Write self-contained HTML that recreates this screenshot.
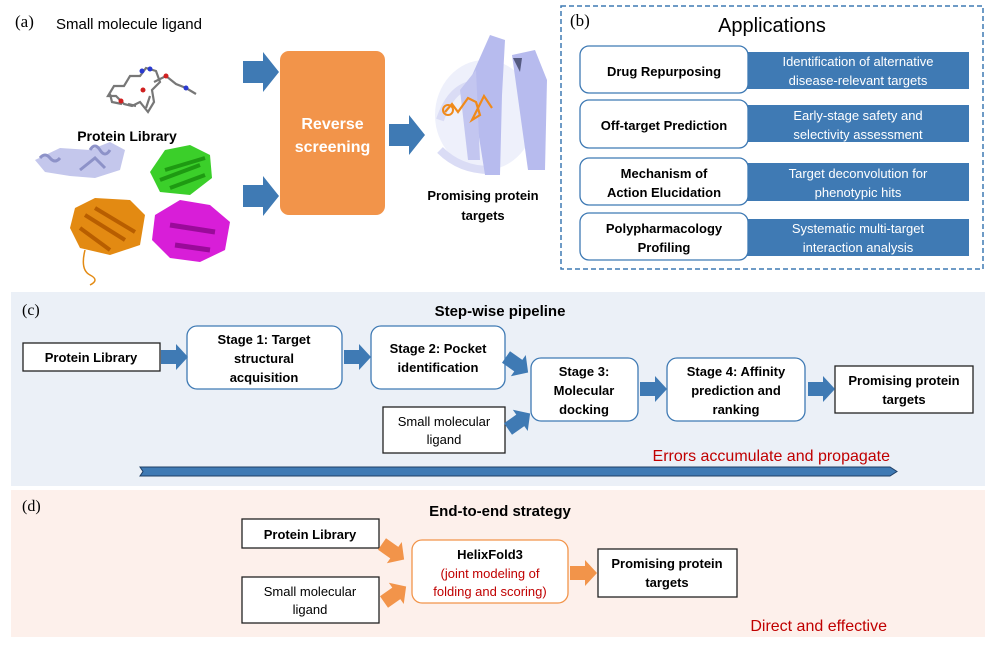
<!DOCTYPE html>
<html><head><meta charset="utf-8"><style>
html,body{margin:0;padding:0;background:#fff}
svg{display:block}
text{font-family:"Liberation Sans",sans-serif}
.b{font-weight:bold}
.s{font-family:"Liberation Serif",serif}
</style></head><body>
<svg width="996" height="651" viewBox="0 0 996 651" xmlns="http://www.w3.org/2000/svg">
<defs>
<path id="ar" d="M0,-7 L15,-7 L15,-13 L27,0 L15,13 L15,7 L0,7 Z"/>
<path id="arB" d="M0,-11 L20,-11 L20,-20 L36,0 L20,20 L20,11 L0,11 Z"/>
</defs>
<!-- (a) -->
<text x="15" y="27" class="s" font-size="17">(a)</text>
<text x="56" y="29" font-size="15">Small molecule ligand</text>
<!-- ligand molecule -->
<g stroke="#777" stroke-width="2.2" fill="none">
<path d="M108,96 L114,86 L124,86 L130,76 L140,76 L146,68 L156,71 L160,82 L152,90 L154,102 L148,112 L140,102 L132,106 L124,104 L116,96 Z"/>
<path d="M154,82 L166,76 L176,84 L186,88 L196,94 M150,96 L146,108"/>
<path d="M110,94 L112,102 L122,104 M128,104 L136,106"/>
</g>
<circle cx="142" cy="71" r="2.5" fill="#2a3ad0"/><circle cx="150" cy="69" r="2.5" fill="#2a3ad0"/>
<circle cx="166" cy="76" r="2.5" fill="#d02020"/><circle cx="143" cy="90" r="2.5" fill="#d02020"/><circle cx="121" cy="101" r="2.5" fill="#d02020"/><circle cx="186" cy="88" r="2.5" fill="#2a3ad0"/>
<text x="127" y="141" font-size="14" class="b" text-anchor="middle">Protein Library</text>
<!-- proteins -->
<g>
<path d="M35,160 L60,148 L90,150 L110,142 L125,150 L120,170 L95,178 L70,176 L45,172 Z" fill="#c4c7ec"/>
<g stroke="#8d92c8" stroke-width="3" fill="none">
<path d="M40,158 q5,-6 10,0 q5,6 10,0"/><path d="M90,150 q5,-8 10,0 q5,8 10,0"/><path d="M80,170 l15,-12 l10,10"/>
</g>
<path d="M150,172 L165,150 L190,145 L210,155 L212,178 L190,195 L160,192 Z" fill="#3bcf2a"/>
<path d="M160,180 L200,165 M165,170 L205,158 M170,188 L205,175" stroke="#1e9a12" stroke-width="4"/>
<path d="M75,208 L95,198 L130,200 L145,215 L140,245 L110,255 L80,248 L70,228 Z" fill="#e38a12"/>
<path d="M85,215 L125,240 M95,208 L135,232 M80,228 L110,250" stroke="#b85e00" stroke-width="4"/>
<path d="M85,250 q-5,20 5,25 q10,5 0,10" stroke="#e38a12" stroke-width="1.5" fill="none"/>
<path d="M155,215 L180,200 L210,205 L230,222 L225,250 L200,262 L170,258 L152,240 Z" fill="#d81ed8"/>
<path d="M170,225 L215,232 M175,245 L210,250" stroke="#9a0a9a" stroke-width="5"/>
</g>
<!-- arrows & reverse screening -->
<g fill="#3f7ab4">
<use href="#arB" transform="translate(243,72)"/>
<use href="#arB" transform="translate(243,196)"/>
<use href="#arB" transform="translate(389,135)"/>
</g>
<rect x="280" y="51" width="105" height="164" rx="9" fill="#f2944a"/>
<text x="332.5" y="129" font-size="16" class="b" fill="#fff" text-anchor="middle">Reverse</text>
<text x="332.5" y="152" font-size="16" class="b" fill="#fff" text-anchor="middle">screening</text>
<!-- promising protein image -->
<g>
<ellipse cx="485" cy="115" rx="50" ry="55" fill="#eef0fb"/>
<path d="M440,120 q10,-30 30,-35 M440,150 q20,20 50,20" stroke="#dadcf5" stroke-width="8" fill="none"/>
<path d="M470,80 L490,35 L505,40 L502,95 L500,175 L485,175 Z" fill="#b7bbee"/>
<path d="M512,55 L535,50 L547,80 L545,170 L528,170 Z" fill="#b7bbee"/>
<path d="M460,90 L476,70 L480,160 L468,160 Z" fill="#c3c6f0"/>
<path d="M513,58 L522,58 L520,72 Z" fill="#555a80"/>
<path d="M445,112 L452,104 L458,112 L468,98 L476,102 L480,115 L472,120 L484,96 L492,108" stroke="#f08a1a" stroke-width="2.2" fill="none"/>
<circle cx="448" cy="110" r="5" stroke="#f08a1a" stroke-width="2" fill="none"/>
</g>
<text x="483" y="200" font-size="13" class="b" text-anchor="middle">Promising protein</text>
<text x="483" y="220" font-size="13" class="b" text-anchor="middle">targets</text>
<!-- (b) -->
<rect x="561" y="6" width="422" height="263" fill="none" stroke="#3f7ab4" stroke-width="1.5" stroke-dasharray="5,3"/>
<text x="570" y="26" class="s" font-size="17">(b)</text>
<text x="772" y="32" font-size="20" text-anchor="middle">Applications</text>
<g fill="#3f7ab4">
<rect x="747" y="52" width="222" height="37"/>
<rect x="747" y="105" width="222" height="37"/>
<rect x="747" y="163" width="222" height="38"/>
<rect x="747" y="219" width="222" height="37"/>
</g>
<g fill="#fff" stroke="#3f7ab4" stroke-width="1.3">
<rect x="580" y="46" width="168" height="47" rx="9"/>
<rect x="580" y="100" width="168" height="48" rx="9"/>
<rect x="580" y="158" width="168" height="47" rx="9"/>
<rect x="580" y="213" width="168" height="47" rx="9"/>
</g>
<g font-size="13" class="b" text-anchor="middle">
<text x="664" y="76">Drug Repurposing</text>
<text x="664" y="130">Off-target Prediction</text>
<text x="664" y="178">Mechanism of</text>
<text x="664" y="197">Action Elucidation</text>
<text x="664" y="233">Polypharmacology</text>
<text x="664" y="252">Profiling</text>
</g>
<g font-size="13" fill="#fff" text-anchor="middle">
<text x="858" y="66">Identification of alternative</text>
<text x="858" y="85">disease-relevant targets</text>
<text x="858" y="120">Early-stage safety and</text>
<text x="858" y="139">selectivity assessment</text>
<text x="858" y="178">Target deconvolution for</text>
<text x="858" y="197">phenotypic hits</text>
<text x="858" y="233">Systematic multi-target</text>
<text x="858" y="252">interaction analysis</text>
</g>
<!-- (c) -->
<rect x="11" y="292" width="974" height="194" fill="#ebf0f7"/>
<text x="22" y="315" class="s" font-size="16">(c)</text>
<text x="500" y="316" font-size="15" class="b" text-anchor="middle">Step-wise pipeline</text>
<g fill="#fff">
<rect x="23" y="343" width="137" height="28" stroke="#222" stroke-width="1.3"/>
<rect x="187" y="326" width="155" height="63" rx="10" stroke="#3f7ab4" stroke-width="1.3"/>
<rect x="371" y="326" width="134" height="63" rx="10" stroke="#3f7ab4" stroke-width="1.3"/>
<rect x="531" y="358" width="107" height="63" rx="10" stroke="#3f7ab4" stroke-width="1.3"/>
<rect x="667" y="358" width="138" height="63" rx="10" stroke="#3f7ab4" stroke-width="1.3"/>
<rect x="835" y="366" width="138" height="47" stroke="#222" stroke-width="1.3"/>
<rect x="383" y="407" width="122" height="46" stroke="#222" stroke-width="1.3"/>
</g>
<g font-size="13" class="b" text-anchor="middle">
<text x="91" y="362">Protein Library</text>
<text x="264" y="344">Stage 1: Target</text>
<text x="264" y="363">structural</text>
<text x="264" y="382">acquisition</text>
<text x="438" y="353">Stage 2: Pocket</text>
<text x="438" y="372">identification</text>
<text x="584" y="376">Stage 3:</text>
<text x="584" y="395">Molecular</text>
<text x="584" y="414">docking</text>
<text x="736" y="376">Stage 4: Affinity</text>
<text x="736" y="395">prediction and</text>
<text x="736" y="414">ranking</text>
<text x="904" y="385">Promising protein</text>
<text x="904" y="404">targets</text>
</g>
<text x="444" y="426" font-size="13" text-anchor="middle">Small molecular</text>
<text x="444" y="444" font-size="13" text-anchor="middle">ligand</text>
<g fill="#3f7ab4">
<use href="#ar" transform="translate(161,357)"/>
<use href="#ar" transform="translate(344,357)"/>
<use href="#ar" transform="translate(506,357) rotate(35)"/>
<use href="#ar" transform="translate(508,429) rotate(-35)"/>
<use href="#ar" transform="translate(640,389)"/>
<use href="#ar" transform="translate(808,389)"/>
</g>
<text x="890" y="461" font-size="16" fill="#c00000" text-anchor="end">Errors accumulate and propagate</text>
<path d="M140,467 L890,467 L897,471.5 L890,476 L140,476 L143,471.5 Z" fill="#3f7ab4" stroke="#1f3f66" stroke-width="1"/>
<!-- (d) -->
<rect x="11" y="490" width="974" height="147" fill="#fdf0eb"/>
<text x="22" y="511" class="s" font-size="16">(d)</text>
<text x="500" y="516" font-size="15" class="b" text-anchor="middle">End-to-end strategy</text>
<g fill="#fff">
<rect x="242" y="519" width="137" height="29" stroke="#222" stroke-width="1.3"/>
<rect x="242" y="577" width="137" height="46" stroke="#222" stroke-width="1.3"/>
<rect x="412" y="540" width="156" height="63" rx="10" stroke="#f2944a" stroke-width="1.3"/>
<rect x="598" y="549" width="139" height="48" stroke="#222" stroke-width="1.3"/>
</g>
<text x="310" y="539" font-size="13" class="b" text-anchor="middle">Protein Library</text>
<text x="310" y="596" font-size="13" text-anchor="middle">Small molecular</text>
<text x="310" y="614" font-size="13" text-anchor="middle">ligand</text>
<text x="490" y="559" font-size="13" class="b" text-anchor="middle">HelixFold3</text>
<text x="490" y="578" font-size="13" fill="#c00000" text-anchor="middle">(joint modeling of</text>
<text x="490" y="596" font-size="13" fill="#c00000" text-anchor="middle">folding and scoring)</text>
<text x="667" y="568" font-size="13" class="b" text-anchor="middle">Promising protein</text>
<text x="667" y="587" font-size="13" class="b" text-anchor="middle">targets</text>
<g fill="#f2944a">
<use href="#ar" transform="translate(382,544) rotate(35)"/>
<use href="#ar" transform="translate(384,602) rotate(-35)"/>
<use href="#ar" transform="translate(570,573)"/>
</g>
<text x="887" y="631" font-size="16" fill="#c00000" text-anchor="end">Direct and effective</text>
</svg>
</body></html>
